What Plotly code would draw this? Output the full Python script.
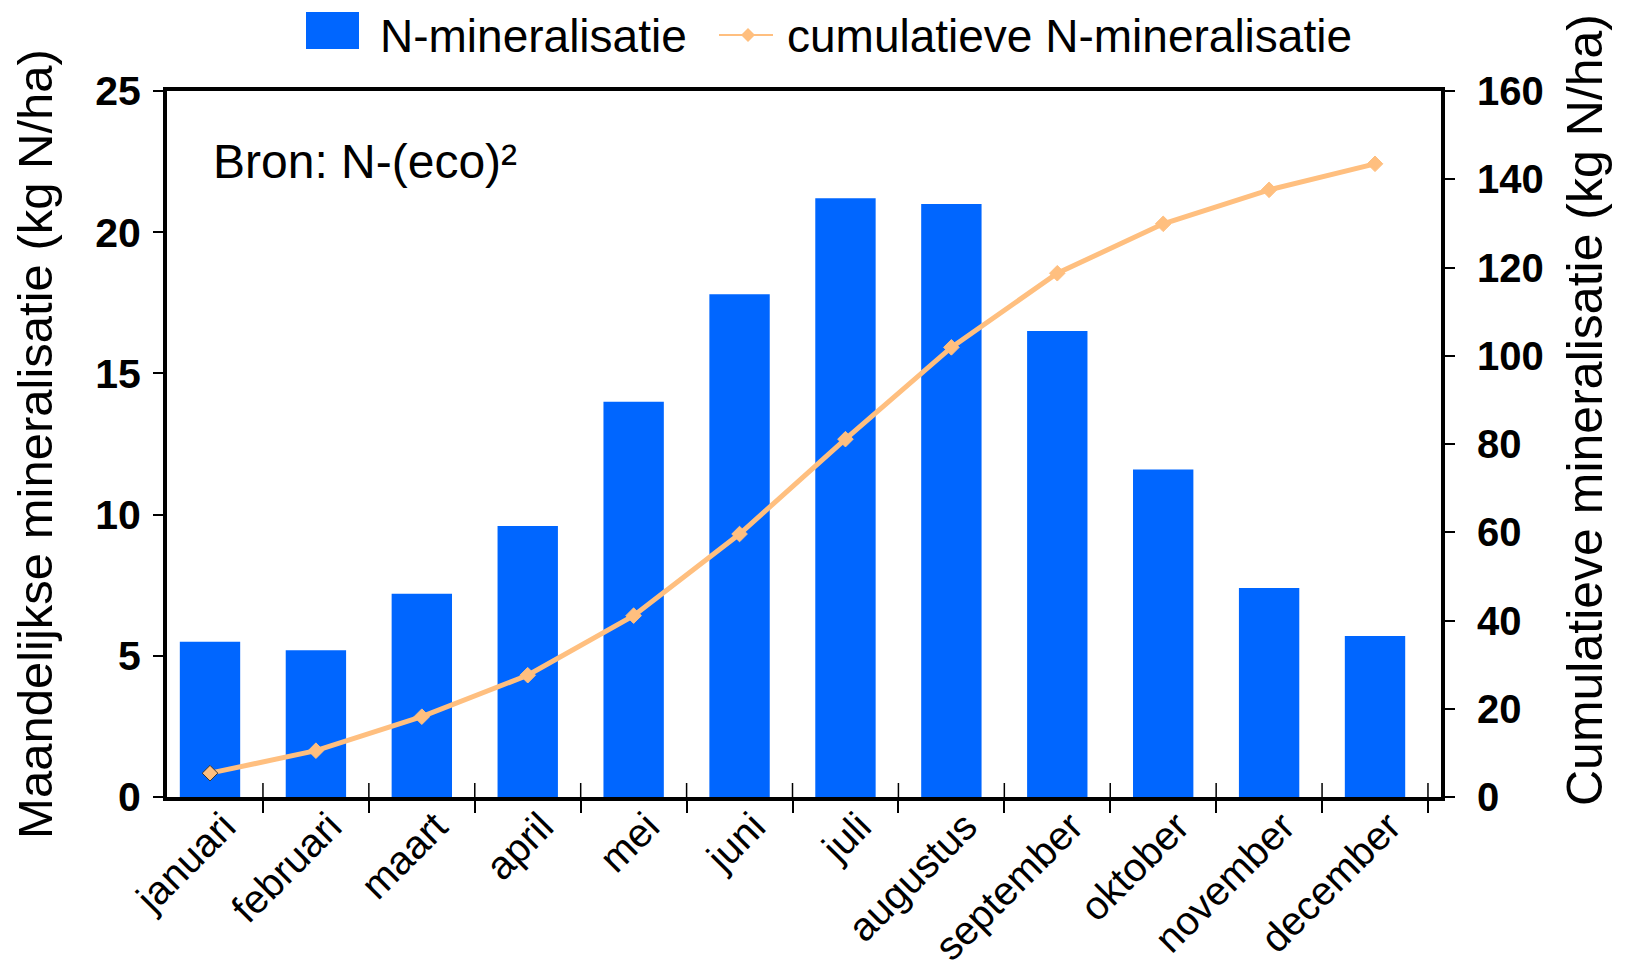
import plotly.graph_objects as go

months = ["januari", "februari", "maart", "april", "mei", "juni", "juli",
          "augustus", "september", "oktober", "november", "december"]
monthly = [5.5, 5.2, 7.2, 9.6, 14.0, 17.8, 21.2, 21.0, 16.5, 11.6, 7.4, 5.7]
cumulative = [5.4, 10.5, 18.2, 27.6, 41.1, 59.6, 81.1, 101.9, 118.7, 129.9, 137.6, 143.5]
bar_name = "N-mineralisatie"
line_name = "cumulatieve N-mineralisatie"

FONT = "Liberation Sans, Arial, sans-serif"
BLUE = "#0066FF"
ORANGE = "#FFBF7F"

# the page body adds an 8px margin, so the figure is sized to fill the window
OFF = 8
W, H = 1627 - OFF, 972 - OFF
L, R, T, B = 159, 186, 83, 175
PW, PH = W - L - R, H - T - B


def px(x):
    """window pixel x -> paper x"""
    return (x - OFF - L) / PW


def py(y):
    """window pixel y -> paper y"""
    return (H - B - (y - OFF)) / PH


fig = go.Figure()
fig.add_trace(go.Bar(x=months, y=monthly, name=bar_name, showlegend=False,
                     marker=dict(color=BLUE, line=dict(width=0)), width=0.57))
fig.add_trace(go.Scatter(x=months, y=cumulative, name=line_name, showlegend=False,
                         yaxis="y2", mode="lines+markers",
                         line=dict(color=ORANGE, width=5),
                         marker=dict(symbol="diamond", size=12, color=ORANGE,
                                     line=dict(width=1,
                                               color=["#333333"] + [ORANGE] * 11))))

shapes = []
# inner halves of the category boundary ticks
for k in range(len(months)):
    shapes.append(dict(type="line", xref="x", yref="paper", x0=k + 0.5, x1=k + 0.5,
                       ysizemode="pixel", yanchor=0, y0=0, y1=14,
                       line=dict(color="black", width=1.5)))
# legend swatches
shapes.append(dict(type="rect", xref="paper", yref="paper",
                   x0=px(306), x1=px(359), y0=py(49), y1=py(12),
                   fillcolor=BLUE, line=dict(width=0)))
shapes.append(dict(type="line", xref="paper", yref="paper",
                   x0=px(719), x1=px(773), y0=py(35), y1=py(35),
                   line=dict(color=ORANGE, width=2)))
cx, cy, d = 748, 35, 7
shapes.append(dict(type="path", xref="paper", yref="paper",
                   path=(f"M{px(cx - d)},{py(cy)} L{px(cx)},{py(cy - d)} "
                         f"L{px(cx + d)},{py(cy)} L{px(cx)},{py(cy + d)} Z"),
                   fillcolor=ORANGE, line=dict(width=0)))

annotations = [
    dict(text="Bron: N-(eco)²", xref="paper", yref="paper",
         x=px(211), y=py(161), xanchor="left", yanchor="middle",
         showarrow=False, font=dict(size=48, family=FONT)),
    dict(text=bar_name, xref="paper", yref="paper", x=px(378), y=py(36),
         xanchor="left", yanchor="middle", showarrow=False,
         font=dict(size=46, family=FONT)),
    dict(text=line_name, xref="paper", yref="paper", x=px(785), y=py(36),
         xanchor="left", yanchor="middle", showarrow=False,
         font=dict(size=46, family=FONT)),
    dict(text="Cumulatieve mineralisatie (kg N/ha)", xref="paper", yref="paper",
         x=px(1585), y=py(410), xanchor="center", yanchor="middle",
         textangle=-90, showarrow=False, font=dict(size=50, family=FONT)),
]

fig.update_layout(
    width=W, height=H,
    margin=dict(l=L, r=R, t=T, b=B, autoexpand=False),
    plot_bgcolor="white", paper_bgcolor="white",
    font=dict(family=FONT, color="black"),
    showlegend=False,
    xaxis=dict(type="category", range=[-0.406, 11.623], tickson="boundaries",
               ticks="outside", ticklen=12, tickwidth=1.5, tickcolor="black",
               showline=True, linecolor="black", linewidth=4, mirror=True,
               showgrid=False, tickangle=-45, ticklabelstandoff=-14,
               ticklabelshift=14,
               tickfont=dict(size=40, family=FONT)),
    yaxis=dict(range=[0, 25], dtick=5, ticks="outside", ticklen=10, tickwidth=2,
               tickcolor="black", showline=True, linecolor="black", linewidth=4,
               showgrid=False, zeroline=False, ticklabelstandoff=4,
               tickfont=dict(size=41, family=FONT, weight="bold"),
               title=dict(text="Maandelijkse mineralisatie (kg N/ha)",
                          font=dict(size=49, family=FONT), standoff=34)),
    yaxis2=dict(range=[0, 160], dtick=20, overlaying="y", side="right",
                ticks="outside", ticklen=10, tickwidth=2, tickcolor="black",
                showline=True, linecolor="black", linewidth=4,
                showgrid=False, zeroline=False, ticklabelstandoff=14,
                tickfont=dict(size=40, family=FONT, weight="bold")),
    shapes=shapes,
    annotations=annotations,
)

fig.write_html("out.html")
